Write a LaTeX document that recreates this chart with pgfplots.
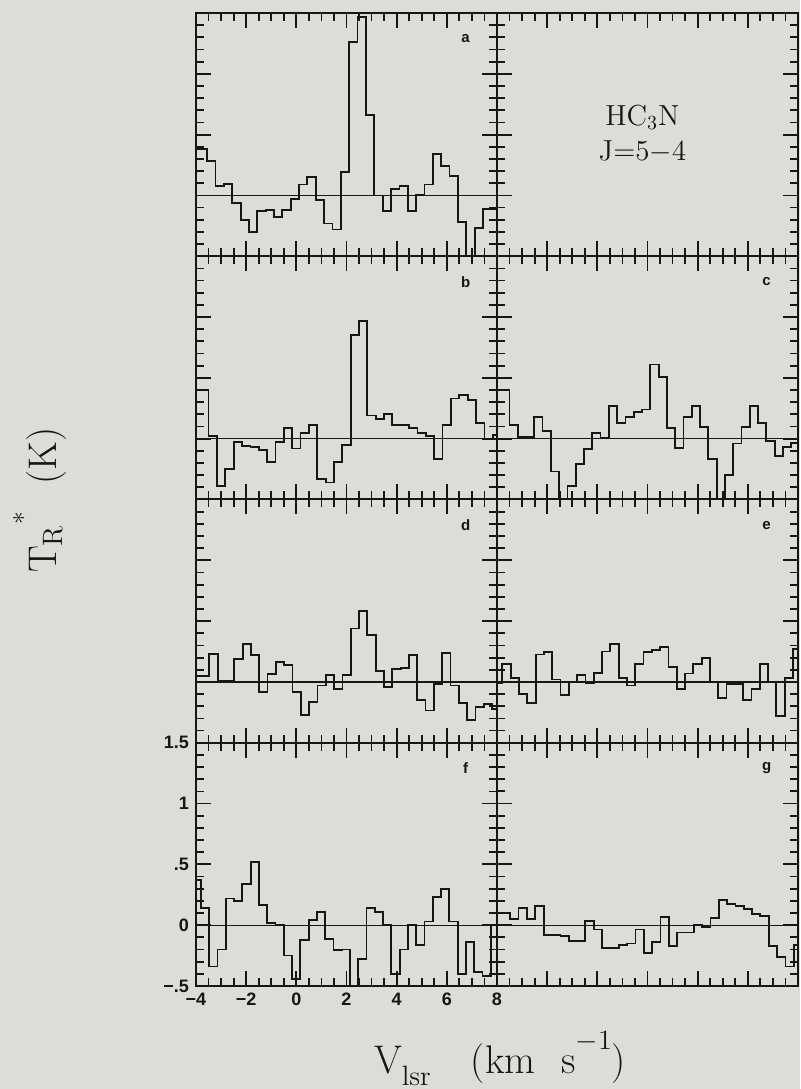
\documentclass[border=0pt]{standalone}
\usepackage{fontspec}
\usepackage{pgfplots}
\pgfplotsset{compat=1.18}
\newfontfamily\plotfont{Liberation Sans}
\definecolor{paper}{RGB}{220,221,216}
\definecolor{ink}{RGB}{22,22,22}

% panel size: 150.5pt x 121.625pt, panels touch each other
\pgfplotsset{
  panel/.style={
    scale only axis, width=150.5pt, height=121.625pt,
    anchor=south west,
    xmin=-4, xmax=8, ymin=-0.5, ymax=1.5,
    xtick={-4,-2,0,2,4,6,8}, ytick={-0.5,0,0.5,1,1.5},
    minor xtick={-3.5,-3,-2.5,-1.5,-1,-0.5,0.5,1,1.5,2.5,3,3.5,4.5,5,5.5,6.5,7,7.5},
    minor ytick={-0.4,-0.3,-0.2,-0.1,0.1,0.2,0.3,0.4,0.6,0.7,0.8,0.9,1.1,1.2,1.3,1.4},
    tick align=inside, xtick pos=both, ytick pos=both,
    major tick length=7.5pt, minor tick length=4pt,
    xticklabels={}, yticklabels={},
    axis line style={ink, line width=1pt},
    every tick/.style={ink, line width=0.9pt},
    every minor tick/.style={ink, line width=0.9pt},
    tick label style={font=\plotfont\bfseries\fontsize{9}{10}\selectfont, text=ink},
  },
  spec/.style={const plot, ink, line width=0.9pt, mark=none},
  zero/.style={ink, line width=0.6pt, mark=none},
}
\newcommand\tag[1]{\node[font=\plotfont\bfseries\fontsize{7.5}{8}\selectfont, text=ink] at (axis cs:6.75,1.29) {#1};}

\begin{document}
\begin{tikzpicture}
\path[use as bounding box] (-98pt,-51.5pt) rectangle (302pt,493pt);
\fill[paper] (-98pt,-51.5pt) rectangle (302pt,493pt);

% ---- row 1: a and the title panel
\begin{axis}[panel, at={(0pt,364.875pt)}]
\addplot[zero] coordinates {(-4,0) (8,0)};
\addplot[spec] coordinates {
(-4,0.38) (-3.56,0.28) (-3.22,0.08) (-2.89,0.095) (-2.56,-0.065) (-2.22,-0.20)
(-1.89,-0.30) (-1.56,-0.13) (-1.22,-0.12) (-0.89,-0.18) (-0.56,-0.12) (-0.22,-0.03)
(0.11,0.09) (0.44,0.15) (0.78,-0.04) (1.11,-0.23) (1.44,-0.28) (1.78,0.19)
(2.11,1.26) (2.44,1.47) (2.78,0.66) (3.11,0.0) (3.44,-0.13) (3.78,0.05)
(4.11,0.075) (4.44,-0.13) (4.78,0.005) (5.11,0.09) (5.44,0.34) (5.78,0.24)
(6.11,0.16) (6.44,-0.22) (6.78,-0.55) (7.11,-0.27) (7.44,-0.11) (7.78,-0.11) (8,-0.11)};
\tag{a}
\end{axis}

\begin{axis}[panel, at={(150.5pt,364.875pt)}]
\node[font=\fontsize{14.5}{16}\selectfont, text=ink, anchor=base, inner sep=0pt]
  at (axis cs:1.8,0.575) {HC$_3$N};
\node[font=\fontsize{14.5}{16}\selectfont, text=ink, anchor=base, inner sep=0pt]
  at (axis cs:1.8,0.29) {J=5$-$4};
\end{axis}

% ---- row 2: b, c
\begin{axis}[panel, at={(0pt,243.25pt)}]
\addplot[zero] coordinates {(-4,0) (8,0)};
\addplot[spec] coordinates {
(-4,0.40) (-3.50,0.025) (-3.17,-0.39) (-2.83,-0.25) (-2.50,-0.03) (-2.17,-0.06)
(-1.83,-0.07) (-1.50,-0.09) (-1.17,-0.19) (-0.83,-0.03) (-0.50,0.09) (-0.17,-0.08)
(0.17,0.05) (0.50,0.115) (0.83,-0.33) (1.17,-0.36) (1.50,-0.19) (1.83,-0.05)
(2.17,0.85) (2.50,0.97) (2.83,0.19) (3.17,0.165) (3.50,0.20) (3.83,0.11)
(4.17,0.115) (4.50,0.09) (4.83,0.047) (5.17,0.025) (5.50,-0.17) (5.83,0.11)
(6.17,0.33) (6.50,0.36) (6.83,0.32) (7.17,0.13) (7.50,0.0) (7.83,0.03) (8,0.03)};
\tag{b}
\end{axis}

\begin{axis}[panel, at={(150.5pt,243.25pt)}]
\addplot[zero] coordinates {(-4,0) (8,0)};
\addplot[spec] coordinates {
(-4,0.40) (-3.505,0.11) (-3.175,0.014) (-2.844,0.014) (-2.514,0.18) (-2.183,0.066)
(-1.853,-0.27) (-1.522,-0.55) (-1.192,-0.39) (-0.861,-0.21) (-0.531,-0.085) (-0.200,0.047)
(0.130,0.005) (0.461,0.27) (0.791,0.13) (1.122,0.18) (1.452,0.22) (1.783,0.24)
(2.113,0.61) (2.444,0.51) (2.774,0.09) (3.105,-0.077) (3.435,0.18) (3.766,0.27)
(4.096,0.096) (4.427,-0.17) (4.757,-0.55) (5.088,-0.30) (5.418,-0.04) (5.749,0.093)
(6.079,0.27) (6.410,0.13) (6.740,-0.02) (7.071,-0.14) (7.401,-0.07) (7.732,-0.035) (8,-0.035)};
\tag{c}
\end{axis}

% ---- row 3: d, e
\begin{axis}[panel, at={(0pt,121.625pt)}]
\addplot[zero] coordinates {(-4,0) (8,0)};
\addplot[spec] coordinates {
(-4,0.05) (-3.468,0.23) (-3.137,0.005) (-2.805,0.005) (-2.474,0.19) (-2.142,0.315)
(-1.810,0.22) (-1.479,-0.085) (-1.147,0.065) (-0.816,0.165) (-0.484,0.14) (-0.152,-0.085)
(0.179,-0.275) (0.511,-0.165) (0.842,-0.03) (1.174,0.06) (1.506,-0.06) (1.837,0.06)
(2.169,0.44) (2.500,0.58) (2.832,0.385) (3.164,0.09) (3.495,-0.04) (3.827,0.105)
(4.158,0.115) (4.490,0.22) (4.822,-0.15) (5.153,-0.235) (5.485,-0.02) (5.816,0.24)
(6.148,-0.03) (6.480,-0.17) (6.811,-0.315) (7.143,-0.205) (7.474,-0.18) (7.806,-0.22) (8,-0.22)};
\tag{d}
\end{axis}

\begin{axis}[panel, at={(150.5pt,121.625pt)}]
\addplot[zero] coordinates {(-4,0) (8,0)};
\addplot[spec] coordinates {
(-4,-0.01) (-3.785,0.145) (-3.454,0.03) (-3.123,-0.10) (-2.792,-0.17) (-2.461,0.225)
(-2.130,0.245) (-1.799,0.02) (-1.468,-0.11) (-1.137,0.0) (-0.806,0.055) (-0.475,-0.01)
(-0.144,0.075) (0.187,0.25) (0.518,0.31) (0.849,0.035) (1.180,-0.03) (1.511,0.15)
(1.842,0.245) (2.173,0.265) (2.504,0.285) (2.835,0.12) (3.166,-0.06) (3.497,0.07)
(3.828,0.15) (4.159,0.20) (4.490,-0.005) (4.821,-0.13) (5.152,-0.015) (5.483,-0.015)
(5.814,-0.15) (6.145,-0.06) (6.476,0.15) (6.807,0.0) (7.138,-0.28) (7.469,0.03) (7.800,0.27) (8,0.27)};
\tag{e}
\end{axis}

% ---- row 4: f (with tick labels), g
\begin{axis}[panel, at={(0pt,0pt)},
  xticklabels={−4,−2,0,2,4,6,8}, yticklabels={−.5,0,.5,1,1.5}]
\addplot[zero] coordinates {(-4,0) (8,0)};
\addplot[spec] coordinates {
(-4,0.37) (-3.80,0.14) (-3.47,-0.34) (-3.14,-0.20) (-2.81,0.22) (-2.48,0.20)
(-2.15,0.34) (-1.82,0.52) (-1.49,0.165) (-1.16,0.02) (-0.83,0.0) (-0.50,-0.25)
(-0.17,-0.44) (0.16,-0.12) (0.49,0.04) (0.82,0.11) (1.15,-0.115) (1.48,-0.205)
(1.81,-0.20) (2.14,-0.55) (2.47,-0.28) (2.80,0.14) (3.13,0.11) (3.46,0.005)
(3.79,-0.40) (4.12,-0.20) (4.45,0.005) (4.78,-0.165) (5.11,0.03) (5.44,0.23)
(5.77,0.30) (6.10,0.03) (6.43,-0.40) (6.76,-0.14) (7.09,-0.385) (7.42,-0.42) (7.75,0.0) (8,0.0)};
\tag{f}
\end{axis}

\begin{axis}[panel, at={(150.5pt,0pt)}]
\addplot[zero] coordinates {(-4,0) (8,0)};
\addplot[spec] coordinates {
(-4,0.10) (-3.47,0.05) (-3.14,0.14) (-2.80,0.05) (-2.47,0.16) (-2.14,-0.08)
(-1.81,-0.08) (-1.47,-0.09) (-1.14,-0.13) (-0.81,-0.13) (-0.48,0.035) (-0.14,-0.035)
(0.19,-0.19) (0.52,-0.19) (0.85,-0.16) (1.19,-0.15) (1.52,-0.035) (1.85,-0.23)
(2.18,-0.135) (2.52,0.07) (2.85,-0.17) (3.18,-0.06) (3.51,-0.06) (3.85,0.0)
(4.18,-0.015) (4.51,0.06) (4.84,0.21) (5.18,0.175) (5.51,0.155) (5.84,0.13)
(6.17,0.09) (6.50,0.076) (6.84,-0.17) (7.17,-0.26) (7.50,-0.34) (7.83,-0.16) (8,-0.16)};
\tag{g}
\end{axis}

% ---- axis titles
\node[rotate=90, anchor=center, text=ink, font=\fontsize{20}{20}\selectfont] at (-78pt,243pt)
  {T$_{\mathrm{R}}$\raisebox{12pt}{\fontsize{13}{13}\selectfont *}\hspace{14pt}(K)};
\node[anchor=base, text=ink, font=\fontsize{20}{20}\selectfont] at (152pt,-43.5pt)
  {V\raisebox{-6pt}{\fontsize{14}{14}\selectfont lsr}\hspace{20pt}(km\hspace{13pt}s\raisebox{12pt}{\fontsize{14}{14}\selectfont $-$1})};
\end{tikzpicture}
\end{document}
